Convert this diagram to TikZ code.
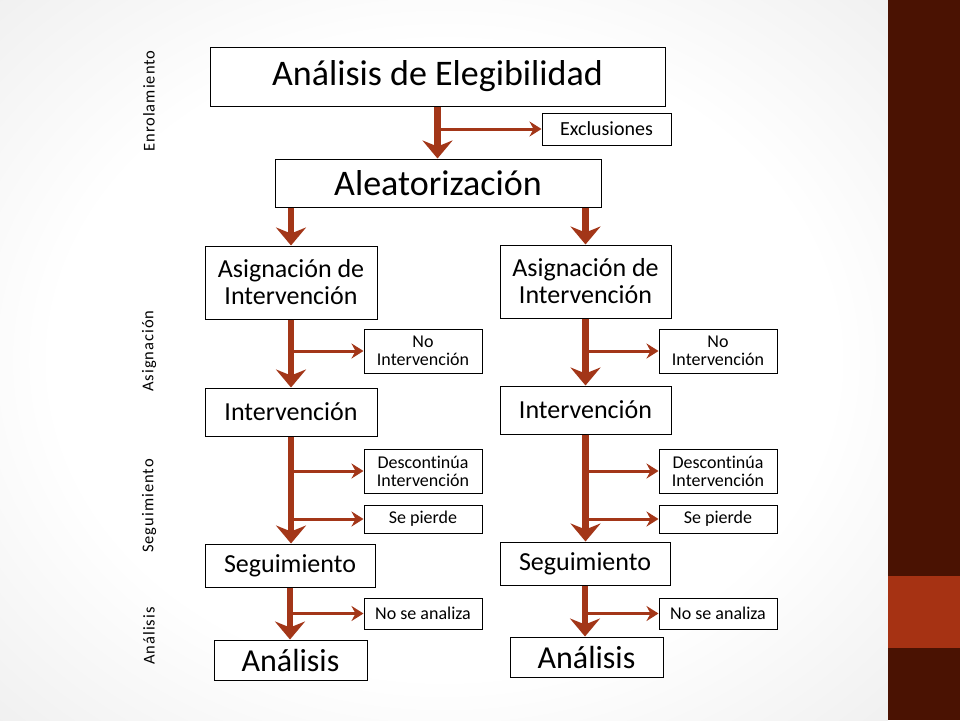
\documentclass[tikz,border=0pt]{standalone}
\usepackage{fontspec}
\setmainfont{Carlito}[Ligatures=NoCommon]
\newfontfamily\sidefont[LetterSpace=6,Ligatures=NoCommon]{Carlito}
\usetikzlibrary{arrows.meta}
\definecolor{arrowc}{RGB}{163,54,24}
\definecolor{stripe}{RGB}{74,18,2}
\definecolor{accent}{RGB}{166,50,19}
\pgfdeclareradialshading{bgshade}{\pgfpoint{0bp}{0bp}}{color(0bp)=(white); color(22bp)=(white); color(50bp)=(black!12); color(75bp)=(black!18)}
\begin{document}
\begin{tikzpicture}[x=1pt,y=-1pt,
  box/.style={draw=black, line width=1pt, fill=white, align=center, inner sep=0pt},
  bigtxt/.style={font=\fontsize{36}{38}\selectfont},
  midtxt/.style={font=\fontsize{26}{27}\selectfont},
  smalltxt/.style={font=\fontsize{18}{18}\selectfont},
  sidelbl/.style={rotate=90, font=\sidefont\fontsize{16.5}{16.5}\selectfont, inner sep=0pt},
  mainarrow/.style={draw=arrowc, line width=6.5pt, -{Stealth[length=18pt,width=30pt,inset=6pt]}},
  subarrow/.style={draw=arrowc, line width=3pt, -{Stealth[length=12pt,width=15pt,inset=4pt]}}]
\useasboundingbox (0,0) rectangle (960,720);
\shade[shading=bgshade] (0,0) rectangle (888,720);
\fill[stripe] (888,0) rectangle (960,720);
\fill[accent] (888,576) rectangle (960,648);

% side labels
\node[sidelbl] (lenr) at (149,101) {Enrolamiento};
\node[sidelbl] (lasig) at (149,351) {Asignación};
\node[sidelbl] (lseg) at (149,506) {Seguimiento};
\node[sidelbl] (lana) at (149,636) {Análisis};

% boxes
\node[box, bigtxt, minimum width=455pt, minimum height=59pt] (eleg) at (437.5,76.5) {Análisis de Elegibilidad};
\node[box, font=\fontsize{20}{20}\selectfont, minimum width=129pt, minimum height=32pt] (excl) at (606.5,129) {Exclusiones};
\node[box, bigtxt, minimum width=326pt, minimum height=48pt] (alea) at (438,183) {Aleatorización};

\node[box, midtxt, minimum width=172pt, minimum height=73pt] (asigL) at (291,282.5) {Asignación de\\Intervención};
\node[box, midtxt, minimum width=171pt, minimum height=73pt] (asigR) at (585.5,281.5) {Asignación de\\Intervención};

\node[box, smalltxt, minimum width=118pt, minimum height=44pt] (noiL) at (423,351) {No\\Intervención};
\node[box, smalltxt, minimum width=118pt, minimum height=44pt] (noiR) at (718,351) {No\\Intervención};

\node[box, midtxt, minimum width=172pt, minimum height=48pt] (intL) at (291,412) {Intervención};
\node[box, midtxt, minimum width=171pt, minimum height=48pt] (intR) at (585.5,410) {Intervención};

\node[box, smalltxt, minimum width=118pt, minimum height=44pt] (descL) at (423,471) {Descontinúa\\Intervención};
\node[box, smalltxt, minimum width=118pt, minimum height=44pt] (descR) at (718,471) {Descontinúa\\Intervención};

\node[box, smalltxt, minimum width=118pt, minimum height=28pt] (perL) at (423,519) {Se pierde};
\node[box, smalltxt, minimum width=118pt, minimum height=28pt] (perR) at (718,519) {Se pierde};

\node[box, midtxt, minimum width=170pt, minimum height=43pt] (segL) at (290,565.5) {Seguimiento};
\node[box, midtxt, minimum width=170pt, minimum height=43pt] (segR) at (585,563.5) {Seguimiento};

\node[box, smalltxt, minimum width=118pt, minimum height=31pt] (noaL) at (423,613.5) {No se analiza};
\node[box, smalltxt, minimum width=118pt, minimum height=31pt] (noaR) at (718,613.5) {No se analiza};

\node[box, font=\fontsize{32}{34}\selectfont, minimum width=153pt, minimum height=40pt] (anaL) at (290.5,660) {Análisis};
\node[box, font=\fontsize{32}{34}\selectfont, minimum width=153pt, minimum height=40pt] (anaR) at (586.5,657) {Análisis};

% connectors
\draw[subarrow] (eleg.south |- excl.west) -- (excl.west);
\draw[mainarrow] (eleg.south) -- (eleg.south |- alea.north);
\draw[mainarrow] (asigL.north |- alea.south) -- (asigL.north);
\draw[mainarrow] (asigR.north |- alea.south) -- (asigR.north);

\draw[subarrow] (asigL.south |- noiL.west) -- (noiL.west);
\draw[subarrow] (asigR.south |- noiR.west) -- (noiR.west);
\draw[mainarrow] (asigL.south) -- (intL.north);
\draw[mainarrow] (asigR.south) -- (intR.north);

\draw[subarrow] (intL.south |- descL.west) -- (descL.west);
\draw[subarrow] (intL.south |- perL.west) -- (perL.west);
\draw[subarrow] (intR.south |- descR.west) -- (descR.west);
\draw[subarrow] (intR.south |- perR.west) -- (perR.west);
\draw[mainarrow] (intL.south) -- (intL.south |- segL.north);
\draw[mainarrow] (intR.south) -- (intR.south |- segR.north);

\draw[subarrow] (segL.south |- noaL.west) -- (noaL.west);
\draw[subarrow] (segR.south |- noaR.west) -- (noaR.west);
\draw[mainarrow] (segL.south) -- (segL.south |- anaL.north);
\draw[mainarrow] (segR.south) -- (segR.south |- anaR.north);
\end{tikzpicture}
\end{document}
